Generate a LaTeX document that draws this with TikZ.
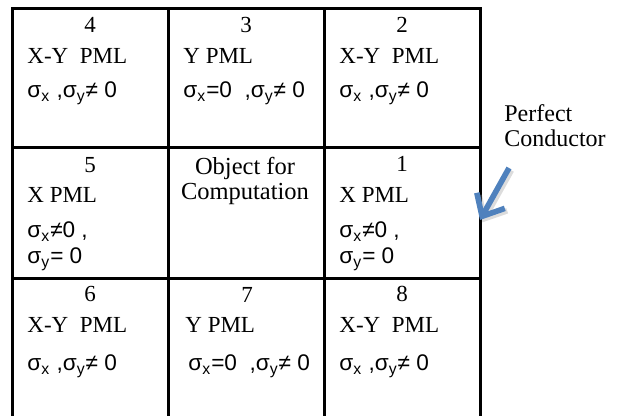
\documentclass[tikz,border=0pt]{standalone}
\usepackage{fontspec}
\setmainfont{Liberation Serif}
\newfontfamily\sigfont{Liberation Sans}
\usetikzlibrary{arrows.meta}
\definecolor{arrowblue}{RGB}{79,129,189}
\newcommand{\sigx}{σ\textsubscript{x}}
\newcommand{\sigy}{σ\textsubscript{y}}

\tikzset{
  cell/.style={draw, line width=1.5pt, minimum width=78pt, inner sep=0pt, outer sep=0pt, anchor=north west},
  num/.style={font=\fontsize{11.5}{13}\selectfont, anchor=base, inner sep=0pt},
  pml/.style={font=\fontsize{11.5}{13}\selectfont, anchor=base west, inner sep=0pt},
  sig/.style={font=\sigfont\fontsize{11.3}{13}\selectfont, anchor=base west, inner sep=0pt},
  pcarrow/.style={draw=arrowblue, line width=2.8pt, -{Straight Barb[length=9pt,width=16pt]}},
  pcshadow/.style={draw=black!45, opacity=0.3, line width=2.8pt, -{Straight Barb[length=9pt,width=16pt]}}
}

\begin{document}
\begin{tikzpicture}[x=0.5pt, y=-0.5pt]

        \useasboundingbox (0,0) rectangle (622,416);
        \clip (0,0) rectangle (622,416);

        % Top row: regions 4, 3, 2
        \node[cell, minimum height=69.5pt] (c4) at (12,9) {};
        \node[cell, minimum height=69.5pt] (c3) at (168,9) {};
        \node[cell, minimum height=69.5pt] (c2) at (324,9) {};
        \node[num] (n4) at (90,33) {4};
        \node[pml] (t4) at (27,64) {X-Y\ \ PML};
        \node[sig] (s4) at (27,98) {\sigx\ ,\sigy≠ 0};
        \node[num] (n3) at (246,33) {3};
        \node[pml] (t3) at (183,64) {Y PML};
        \node[sig] (s3) at (183,98) {\sigx=0\ \ ,\sigy≠ 0};
        \node[num] (n2) at (402,33) {2};
        \node[pml] (t2) at (339,64) {X-Y\ \ PML};
        \node[sig] (s2) at (339,98) {\sigx\ ,\sigy≠ 0};

        % Middle row: region 5, object, region 1
        \node[cell, minimum height=65.5pt] (c5) at (12,148) {};
        \node[cell, minimum height=65.5pt] (cobj) at (168,148) {};
        \node[cell, minimum height=65.5pt] (c1) at (324,148) {};
        \node[num] (n5) at (90,173) {5};
        \node[pml] (t5) at (27,203) {X PML};
        \node[sig] (s5a) at (27,238) {\sigx≠0\ ,};
        \node[sig] (s5b) at (27,264) {\sigy= 0};
        \node[align=center, font=\fontsize{12.25}{12.5}\selectfont, anchor=base, inner sep=0pt] (obj) at (245,200) {Object for\\Computation};
        \node[num] (n1) at (402,172) {1};
        \node[pml] (t1) at (339,203) {X PML};
        \node[sig] (s1a) at (339,238) {\sigx≠0\ ,};
        \node[sig] (s1b) at (339,264) {\sigy= 0};

        % Bottom row: regions 6, 7, 8
        \node[cell, minimum height=72pt] (c6) at (12,279) {};
        \node[cell, minimum height=72pt] (c7) at (168,279) {};
        \node[cell, minimum height=72pt] (c8) at (324,279) {};
        \node[num] (n6) at (90,302) {6};
        \node[pml] (t6) at (27,333) {X-Y\ \ PML};
        \node[sig] (s6) at (27,371) {\sigx\ ,\sigy≠ 0};
        \node[num] (n7) at (247,303) {7};
        \node[pml] (t7) at (185,333) {Y PML};
        \node[sig] (s7) at (188,371) {\sigx=0\ \ ,\sigy≠ 0};
        \node[num] (n8) at (402,302) {8};
        \node[pml] (t8) at (339,333) {X-Y\ \ PML};
        \node[sig] (s8) at (339,371) {\sigx\ ,\sigy≠ 0};

        % Perfect conductor label and arrow
        \node[pml, font=\fontsize{12}{13}\selectfont] (pc) at (504,122) {Perfect};
        \node[pml, font=\fontsize{12}{13}\selectfont] (pc2) at (504,147) {Conductor};
        \coordinate (pctail) at (509,168);
        \coordinate (pctip) at ([yshift=-3.25pt]c1.east);
        \draw[pcshadow] ([shift={(1.2pt,-1.2pt)}]pctail) -- ([shift={(1.2pt,-1.2pt)}]pctip);
        \draw[pcarrow] (pctail) -- (pctip);

\end{tikzpicture}
\end{document}
